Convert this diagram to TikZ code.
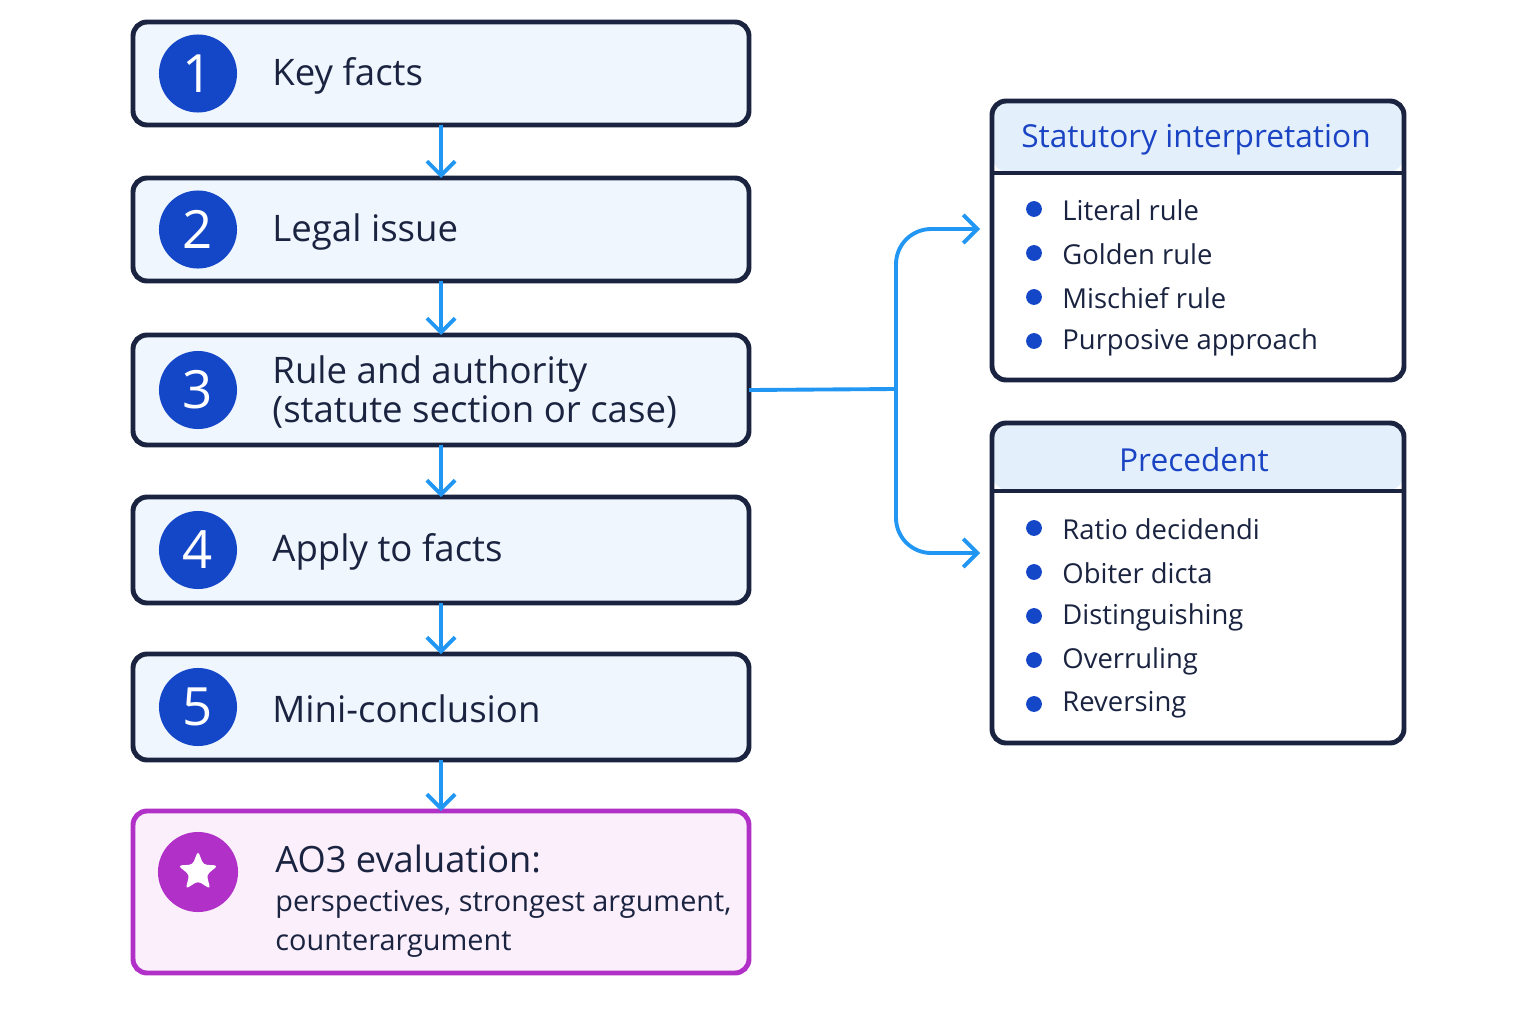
\documentclass[tikz,border=0pt]{standalone}
\usepackage{fontspec}
\setmainfont{Open Sans}
\usetikzlibrary{arrows.meta, shapes.geometric}
\definecolor{navy}{HTML}{1A2340}
\definecolor{stepfill}{HTML}{F0F6FD}
\definecolor{numblue}{HTML}{1446C8}
\definecolor{arrowblue}{HTML}{2196F3}
\definecolor{evalpurple}{HTML}{B030C8}
\definecolor{evalfill}{HTML}{FBEFFB}
\definecolor{headfill}{HTML}{E3F0FC}
\definecolor{headblue}{HTML}{1A44C4}
\tikzset{
  stepbox/.style={draw=navy, line width=1.4pt, fill=stepfill, rounded corners=4pt},
  numdot/.style={circle, fill=numblue, minimum size=0.78cm, inner sep=0pt, text=white, font=\fontsize{15}{15}\selectfont},
  steptext/.style={anchor=west, text=navy, font=\fontsize{10.4}{11.2}\selectfont, align=left},
  flow/.style={draw=arrowblue, line width=1.1pt, -{Straight Barb[length=4pt,width=8pt]}},
  bullettext/.style={anchor=west, text=navy, font=\fontsize{7.8}{9}\selectfont},
  bulletdot/.style={circle, fill=numblue, minimum size=4.5pt, inner sep=0pt},
  headtext/.style={text=headblue, font=\fontsize{9}{11}\selectfont}
}
\begin{document}
\begin{tikzpicture}[x=0.01cm, y=-0.01cm]
\useasboundingbox[fill=white] (0,0) rectangle (1536,1024);

% steps on the left
\foreach \n/\top/\bot/\lbl in {1/22/125/Key facts, 2/178/281/Legal issue, 3/335/445/{Rule and authority\\(statute section or case)}, 4/497/603/Apply to facts, 5/654/760/Mini-conclusion}{
  \draw[stepbox] (133,\top) rectangle (749,\bot);
  \node[numdot] (num\n) at (198,{(\top+\bot)/2}) {\n};
  \node[steptext] (txt\n) at (260,{(\top+\bot)/2+2}) {\lbl};
  \coordinate (top\n) at (441,\top);
  \coordinate (bot\n) at (441,\bot);
  \coordinate (right\n) at (749,{(\top+\bot)/2});
}

% evaluation box
\draw[stepbox, draw=evalpurple, fill=evalfill] (133,811) rectangle (749,973);
\coordinate (top6) at (441,811);
\node[circle, fill=evalpurple, minimum size=0.8cm, inner sep=0pt] (num6) at (198,872) {};
\node[star, star points=5, star point ratio=2.3, fill=white, minimum size=0.42cm, inner sep=0pt, rounded corners=1pt] at (num6) {};
\node[anchor=north west, text=navy, align=left, font=\fontsize{8.2}{11}\selectfont] (txt6) at (263,833)
  {{\fontsize{10.3}{12}\selectfont AO3 evaluation:}\\perspectives, strongest argument,\\counterargument};

\foreach \a/\b in {1/2, 2/3, 3/4, 4/5, 5/6}
  \draw[flow] (bot\a) -- (top\b);

% statutory interpretation
\fill[white] (992,101) rectangle (1404,380);
\fill[headfill, rounded corners=4pt] (993,102) rectangle (1403,172);
\draw[navy, line width=1.4pt] (992,173) -- (1404,173);
\draw[navy, line width=1.4pt, rounded corners=4pt] (992,101) rectangle (1404,380);
\node[headtext] (stathead) at (1196,140) {Statutory interpretation};
\foreach \i/\item in {0/Literal rule, 1/Golden rule, 2/Mischief rule, 3/Purposive approach}{
  \node[bulletdot] at (1034,{209+44*\i}) {};
  \node[bullettext] at (1050,{210+44*\i}) {\item};
}
\coordinate (statin) at (980,229);

% precedent
\fill[white] (992,423) rectangle (1404,743);
\fill[headfill, rounded corners=4pt] (993,424) rectangle (1403,490);
\draw[navy, line width=1.4pt] (992,491) -- (1404,491);
\draw[navy, line width=1.4pt, rounded corners=4pt] (992,423) rectangle (1404,743);
\node[headtext] (prechead) at (1194,460) {Precedent};
\foreach \i/\item in {0/Ratio decidendi, 1/Obiter dicta, 2/Distinguishing, 3/Overruling, 4/Reversing}{
  \node[bulletdot] at (1034,{528+44*\i}) {};
  \node[bullettext] at (1050,{529+44*\i}) {\item};
}
\coordinate (precin) at (980,553);

% branch
\coordinate (fork) at (896,389);
\draw[draw=arrowblue, line width=1.1pt] (right3) -- (fork);
\draw[flow, rounded corners=10pt] (fork) |- (statin);
\draw[flow, rounded corners=10pt] (fork) |- (precin);
\end{tikzpicture}
\end{document}
